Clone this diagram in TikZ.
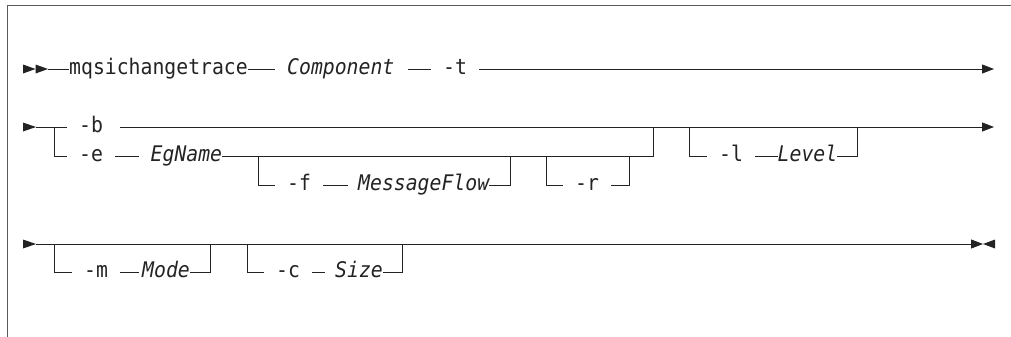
\documentclass[tikz,border=0pt]{standalone}
\usepackage{fontspec}
\setmonofont[FakeStretch=0.92]{DejaVu Sans Mono}
\usetikzlibrary{arrows.meta, math}
\definecolor{railgray}{RGB}{35,35,35}
\definecolor{framegray}{RGB}{90,90,90}

\tikzset{
  flag/.style={anchor=west, inner xsep=12pt, inner ysep=0pt, text height=11.8pt, text depth=0pt,
    font=\ttfamily\fontsize{21.5}{26}\selectfont, text=railgray},
  cmd/.style={flag, inner xsep=0pt},
  var/.style={cmd, font=\ttfamily\itshape\fontsize{21.5}{26}\selectfont},
  rail/.style={draw=railgray, line width=0.9pt},
  tip/.style={-{Triangle[length=12pt,width=9pt]}}
}

\begin{document}
\begin{tikzpicture}[x=1pt, y=-1pt]
\tikzmath{
\ya=69;
\yb=127;
\yc=156;
\yd=185;
\ye=244;
\yf=272;
}
\useasboundingbox (0,0) rectangle (1011,337);
\draw[framegray, line width=1.3pt] (1011,5.5) -- (7.5,5.5) -- (7.5,337);%frame

%first line
\fill[railgray] (23,\ya-4.5) -- (35.5,\ya) -- (23,\ya+4.5) -- cycle;
\fill[railgray] (35.5,\ya-4.5) -- (48,\ya) -- (35.5,\ya+4.5) -- cycle;
\coordinate (s1) at (48,\ya);
\coordinate (e1) at (994,\ya);
\node[cmd] (mqsi) at (69,\ya) {mqsichangetrace};
\node[var] (comp) at (287,\ya) {Component};
\node[flag] (t) at (431,\ya) {-t};
\draw[rail] (s1) -- (mqsi.west);
\draw[rail, shorten >=12pt] (mqsi.east) -- (comp.west);
\draw[rail, shorten <=13pt] (comp.east) -- (t.west);
\draw[rail, tip] (t.east) -- (e1);

%second line
\fill[railgray] (23,\yb-4.5) -- (36,\yb) -- (23,\yb+4.5) -- cycle;
\coordinate (s2) at (36,\yb);
\coordinate (e2) at (994,\yb);
\coordinate (j1) at (54,\yb);
\coordinate (j3) at (653,\yb);
\coordinate (j4) at (258,\yc);
\coordinate (j5) at (510,\yc);
\coordinate (j6) at (546,\yc);
\coordinate (j7) at (629,\yc);
\coordinate (j8) at (689,\yb);
\coordinate (j9) at (857,\yb);
\node[flag] (b) at (67,\yb) {-b};
\node[flag] (e) at (67,\yc) {-e};
\node[var] (egname) at (150.5,\yc) {EgName};
\node[flag] (f) at (275,\yd) {-f};
\node[var] (msgflow) at (358,\yd) {MessageFlow};
\node[flag] (r) at (563,\yd) {-r};
\node[flag] (l) at (707,\yc) {-l};
\node[var] (level) at (777.5,\yc) {Level};
\draw[rail] (s2) -- (b.west);
\draw[rail, tip, shorten <=5pt] (b.east) -- (e2);
\draw[rail] (j1) |- (e.west);
\draw[rail, shorten >=12pt] (e.east) -- (egname.west);
\draw[rail] (egname.east) -| (j3);
\draw[rail] (j4) |- (f.west);
\draw[rail, shorten >=10pt] (f.east) -- (msgflow.west);
\draw[rail] (msgflow.east) -| (j5);
\draw[rail] (j6) |- (r.west);
\draw[rail] (r.east) -| (j7);
\draw[rail] (j8) |- (l.west);
\draw[rail] (l.east) -- (level.west);
\draw[rail] (level.east) -| (j9);

%third line
\fill[railgray] (23,\ye-4.5) -- (36,\ye) -- (23,\ye+4.5) -- cycle;
\fill[railgray] (995,\ye-4.5) -- (983,\ye) -- (995,\ye+4.5) -- cycle;
\coordinate (s3) at (36,\ye);
\coordinate (e3) at (983,\ye);
\coordinate (j10) at (54,\ye);
\coordinate (j11) at (210,\ye);
\coordinate (j12) at (247,\ye);
\coordinate (j13) at (402,\ye);
\node[flag] (m) at (72,\yf) {-m};
\node[var] (mode) at (142,\yf) {Mode};
\node[flag] (c) at (264,\yf) {-c};
\node[var] (size) at (335,\yf) {Size};
\draw[rail, tip] (s3) -- (e3);
\draw[rail] (j10) |- (m.west);
\draw[rail, shorten >=3pt] (m.east) -- (mode.west);
\draw[rail] (mode.east) -| (j11);
\draw[rail] (j12) |- (c.west);
\draw[rail, shorten >=10pt] (c.east) -- (size.west);
\draw[rail] (size.east) -| (j13);
\end{tikzpicture}
\end{document}
